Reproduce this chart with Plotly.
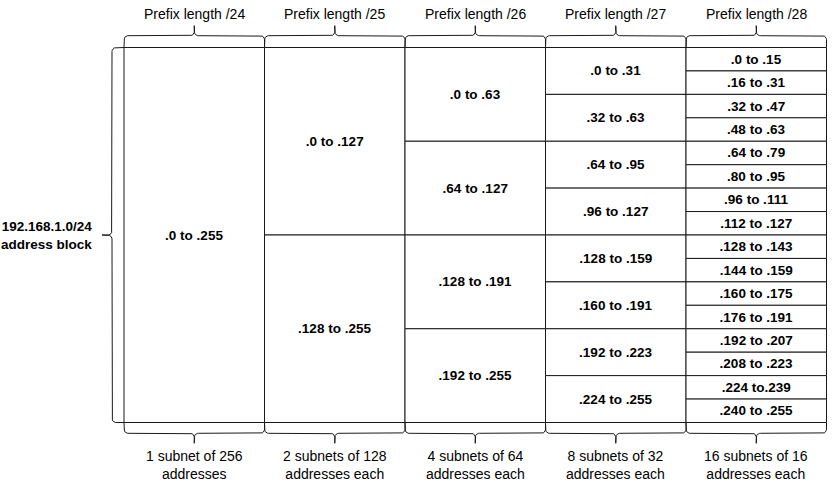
import re
import numpy as np
import plotly.graph_objects as go

# ---------------------------------------------------------------
# Data
# ---------------------------------------------------------------
prefixes = [24, 25, 26, 27, 28]

header_labels = ["Prefix length /24", "Prefix length /25", "Prefix length /26",
                 "Prefix length /27", "Prefix length /28"]

footer_labels = ["1 subnet of 256<br>addresses",
                 "2 subnets of 128<br>addresses each",
                 "4 subnets of 64<br>addresses each",
                 "8 subnets of 32<br>addresses each",
                 "16 subnets of 16<br>addresses each"]

cells_24 = [".0 to .255"]
cells_25 = [".0 to .127", ".128 to .255"]
cells_26 = [".0 to .63", ".64 to .127", ".128 to .191", ".192 to .255"]
cells_27 = [".0 to .31", ".32 to .63", ".64 to .95", ".96 to .127",
            ".128 to .159", ".160 to .191", ".192 to .223", ".224 to .255"]
cells_28 = [".0 to .15", ".16 to .31", ".32 to .47", ".48 to .63",
            ".64 to .79", ".80 to .95", ".96 to .111", ".112 to .127",
            ".128 to .143", ".144 to .159", ".160 to .175", ".176 to .191",
            ".192 to .207", ".208 to .223", ".224 to.239", ".240 to .255"]

block_label = "192.168.1.0/24<br>address block"

columns = [cells_24, cells_25, cells_26, cells_27, cells_28]

# ---------------------------------------------------------------
# Scale helpers (pixels per data unit)
# ---------------------------------------------------------------
X_PX = 140.5          # one column
Y_PX = 375.0 / 256    # one address
FONT = "Liberation Sans, Arial, Helvetica, sans-serif"
LINE = "#1a1a1a"


def brace_px(length, depth, hook, r=4, n=8):
    # curly brace in a local pixel frame: a runs along the brace,
    # b = 0 is the main line, +b toward the table, -b toward the tip
    m = length / 2.0
    half = [(0, hook)]
    for t in np.linspace(np.pi, 1.5 * np.pi, n):
        half.append((r + r * np.cos(t), r + r * np.sin(t)))
    for t in np.linspace(0.5 * np.pi, 0, n):
        half.append((m - r + r * np.cos(t), -r + r * np.sin(t)))
    half.append((m, -depth))
    other = [(length - a, b) for a, b in reversed(half)]
    pts = half + other
    return [p[0] for p in pts], [p[1] for p in pts]


fig = go.Figure()

# ---------------------------------------------------------------
# Cells: one bar per address range
# ---------------------------------------------------------------
for i, cells in enumerate(columns):
    starts, sizes = [], []
    for c in cells:
        lo, hi = [int(v) for v in re.findall(r"\d+", c)]
        starts.append(lo)
        sizes.append(hi - lo + 1)
    fig.add_trace(go.Bar(
        x=[i] * len(cells),
        y=sizes,
        base=starts,
        width=1,
        text=cells,
        textposition="inside",
        insidetextanchor="middle",
        textangle=0,
        constraintext="none",
        textfont=dict(family=FONT, size=13.5, color="black", weight="bold"),
        marker=dict(color="white", line=dict(color=LINE, width=1)),
        hoverinfo="skip",
        showlegend=False,
    ))

# ---------------------------------------------------------------
# Braces
# ---------------------------------------------------------------
for i in range(len(prefixes)):
    # top
    a, b = brace_px(X_PX, 10, 11.8)
    fig.add_trace(go.Scatter(
        x=[i - 0.5 + v / X_PX for v in a],
        y=[(-11.8 + v) / Y_PX for v in b],
        mode="lines", line=dict(color=LINE, width=1),
        hoverinfo="skip", showlegend=False))
    # bottom
    a, b = brace_px(X_PX, 10, 10.8)
    fig.add_trace(go.Scatter(
        x=[i - 0.5 + v / X_PX for v in a],
        y=[256 + (10.8 - v) / Y_PX for v in b],
        mode="lines", line=dict(color=LINE, width=1),
        hoverinfo="skip", showlegend=False))

# left
a, b = brace_px(256 * Y_PX, 10, 12)
fig.add_trace(go.Scatter(
    x=[-0.5 + (-12 + v) / X_PX for v in b],
    y=[v / Y_PX for v in a],
    mode="lines", line=dict(color=LINE, width=1),
    hoverinfo="skip", showlegend=False))

# ---------------------------------------------------------------
# Labels
# ---------------------------------------------------------------
for i in range(len(prefixes)):
    fig.add_annotation(x=i, y=0, yshift=33.5, text=header_labels[i],
                       showarrow=False, xanchor="center", yanchor="middle",
                       font=dict(family=FONT, size=14, color="black"))
    fig.add_annotation(x=i, y=256, yshift=-42.5, text=footer_labels[i],
                       showarrow=False, xanchor="center", yanchor="middle",
                       align="center",
                       font=dict(family=FONT, size=14, color="black"))

fig.add_annotation(x=-0.5, xshift=-30, y=128, text="<b>" + block_label + "</b>",
                   showarrow=False, xanchor="right", yanchor="middle",
                   align="right",
                   font=dict(family=FONT, size=13.5, color="black"))

fig.update_layout(
    width=836, height=485,
    margin=dict(l=0, r=0, t=0, b=0),
    paper_bgcolor="white", plot_bgcolor="white",
    barmode="overlay",
    xaxis=dict(range=[-0.5 - 124 / X_PX, -0.5 + (836 - 124) / X_PX],
               visible=False, fixedrange=True),
    yaxis=dict(range=[256 + (485 - 422.5) / Y_PX, -47.5 / Y_PX],
               visible=False, fixedrange=True),
)

fig.write_html("out.html", config={"displayModeBar": False},
               post_script="document.body.style.margin='0';")
